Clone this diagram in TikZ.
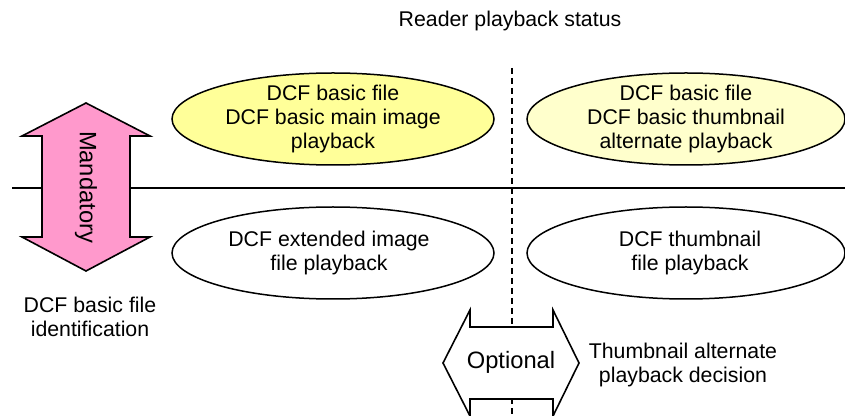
\documentclass[tikz,border=0pt]{standalone}
\usepackage{fontspec}
\setmainfont{Liberation Sans}
\usetikzlibrary{shapes.geometric}
\definecolor{mandpink}{RGB}{255,153,204}
\definecolor{basicyellow}{RGB}{255,255,153}
\definecolor{paleyellow}{RGB}{255,255,204}
\newcommand\txtsize{\fontsize{10.65}{12}\selectfont}
\newcommand\arrsize{\fontsize{11.85}{14}\selectfont}

\begin{document}
\begin{tikzpicture}[x=0.5pt,y=-0.5pt,line width=0.8pt,
    status/.style={draw,ellipse,line width=0.75pt,inner sep=0pt,minimum height=46pt},
    caption/.style={align=center,font=\txtsize,inner sep=0pt}]
    \useasboundingbox (0,0) rectangle (845,416);

    %dividers
    \coordinate (hl) at (12,188);
    \coordinate (hr) at (846,188);
    \coordinate (vt) at (512,68);
    \coordinate (vb) at (512,418);
    \draw (hl)--(hr);
    \draw[line width=0.65pt,dash pattern=on 3pt off 2pt] (vt)--(vb);

    %title
    \node[caption] (title) at (510,21) {Reader playback status};

    %playback ellipses
    \node[status,fill=basicyellow,minimum width=161pt] (basicmain) at (333,119) {};
    \node[caption] (basicmaintxt) at (basicmain) {DCF basic file\\DCF basic main image\\playback};
    \node[status,fill=paleyellow,minimum width=159pt] (basicthumb) at (686,119) {};
    \node[caption] (basicthumbtxt) at (basicthumb) {DCF basic file\\DCF basic thumbnail\\alternate playback};
    \node[status,fill=white,minimum width=161pt] (extended) at (333,253) {};
    \node[caption] (extendedtxt) at ([xshift=-2pt]extended.center) {DCF extended image\\file playback};
    \node[status,fill=white,minimum width=159pt] (thumbfile) at (686,253) {};
    \node[caption] (thumbfiletxt) at ([xshift=2pt]thumbfile.center) {DCF thumbnail\\file playback};

    %Mandatory arrow
    \draw[fill=mandpink] (86,103)--(150,136)--(130,136)--(130,237)--(150,237)--(86,271)
        --(22,237)--(42,237)--(42,136)--(22,136)--cycle;
    \node[font=\arrsize,rotate=-90,inner sep=0pt] (mand) at (86,187) {Mandatory};
    \node[caption] (ident) at (90,317) {DCF basic file\\identification};

    %Optional arrow
    \draw[fill=white] (443,363)--(470,310)--(470,327)--(553,327)--(553,310)--(579,363)
        --(553,416)--(553,399)--(470,399)--(470,416)--cycle;
    \node[font=\arrsize,inner sep=0pt] (opt) at (511,362) {Optional};
    \node[caption] (decision) at (683,365) {Thumbnail alternate\\playback decision};
\end{tikzpicture}
\end{document}
